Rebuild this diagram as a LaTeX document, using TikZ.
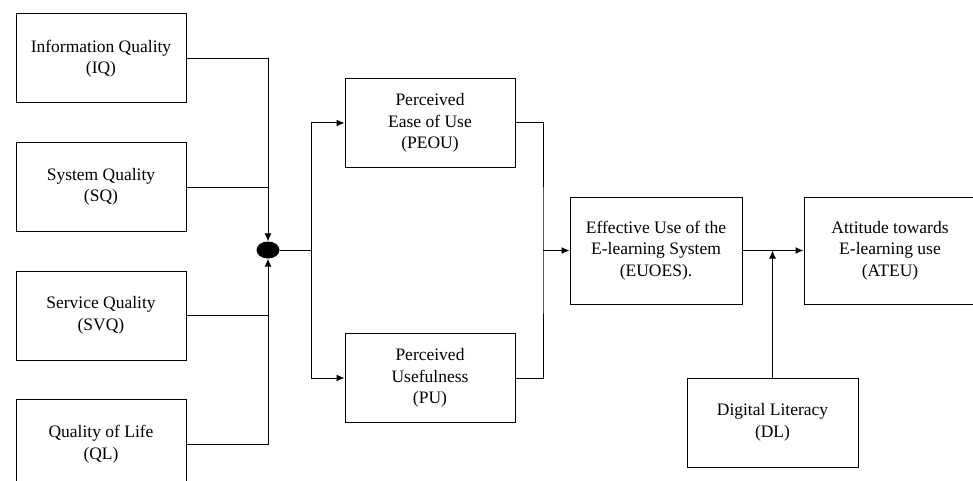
\documentclass[tikz,border=0pt]{standalone}
\usepackage{fontspec}
\setmainfont{Liberation Serif}
\newfontfamily\seriffont{Liberation Serif}
\usepackage{tikz}
\usetikzlibrary{positioning,shapes.geometric,arrows.meta}

\begin{document}
\begin{tikzpicture}[
  x=1pt, y=-1pt,
  node distance = 38.5pt,
  bloc/.style   = {draw, line width=1pt, align=center, minimum width=170pt,
                   minimum height=89pt, inner sep=2pt,
                   font=\seriffont\fontsize{17.5}{21.5}\selectfont},
  fleche/.style = {-{Latex[length=8pt,width=7pt]}, line width=1pt},
  trait/.style  = {line width=1pt}
]
\useasboundingbox (0,0) rectangle (973,481);
% facteurs du systeme
\node[bloc] (iq) at (101,58.5) {Information Quality\\(IQ)};
\node[bloc, below=of iq]  (sq)  {System Quality\\(SQ)};
\node[bloc, below=of sq]  (svq) {Service Quality\\(SVQ)};
\node[bloc, below=of svq] (ql)  {Quality of Life\\(QL)};
\node[fill, ellipse, minimum width=23pt, minimum height=17pt, inner sep=0pt] (jonction) at (268,250) {};
\coordinate (fourche) at (311,250);
% perceptions
\node[bloc] (peou) at (430,123) {Perceived\\Ease of Use\\(PEOU)};
\node[bloc, below=165pt of peou] (pu) {Perceived\\Usefulness\\(PU)};
\coordinate (collecte) at (543,250.5);
\node[bloc, minimum width=172pt, minimum height=107pt] (euoes) at (656,250.5)
  {Effective Use of the\\E-learning System\\(EUOES).};
\node[bloc, minimum width=172pt, minimum height=107pt, right=61pt of euoes] (ateu)
  {Attitude towards\\E-learning use\\(ATEU)};
\node[bloc, minimum width=171pt] (dl) at (772.5,422.5) {Digital Literacy\\(DL)};
% liaisons
\draw[fleche] (iq.east) -| (jonction.north);
\draw[trait]  (sq.east) -- (sq.east -| jonction);
\draw[trait]  (svq.east) -- (svq.east -| jonction);
\draw[fleche] (ql.east) -| (jonction.south);
\draw[trait]  (jonction.east) -- (fourche);
\draw[fleche] (fourche) |- (peou.west);
\draw[fleche] (fourche) |- (pu.west);
\draw[trait]  (peou.east) -| (collecte) |- (pu.east);
\draw[fleche] (collecte) -- (euoes.west);
\draw[fleche] (euoes) -- (ateu);
\draw[fleche] (dl.north) -- (dl.north |- euoes.east);
\end{tikzpicture}
\end{document}
